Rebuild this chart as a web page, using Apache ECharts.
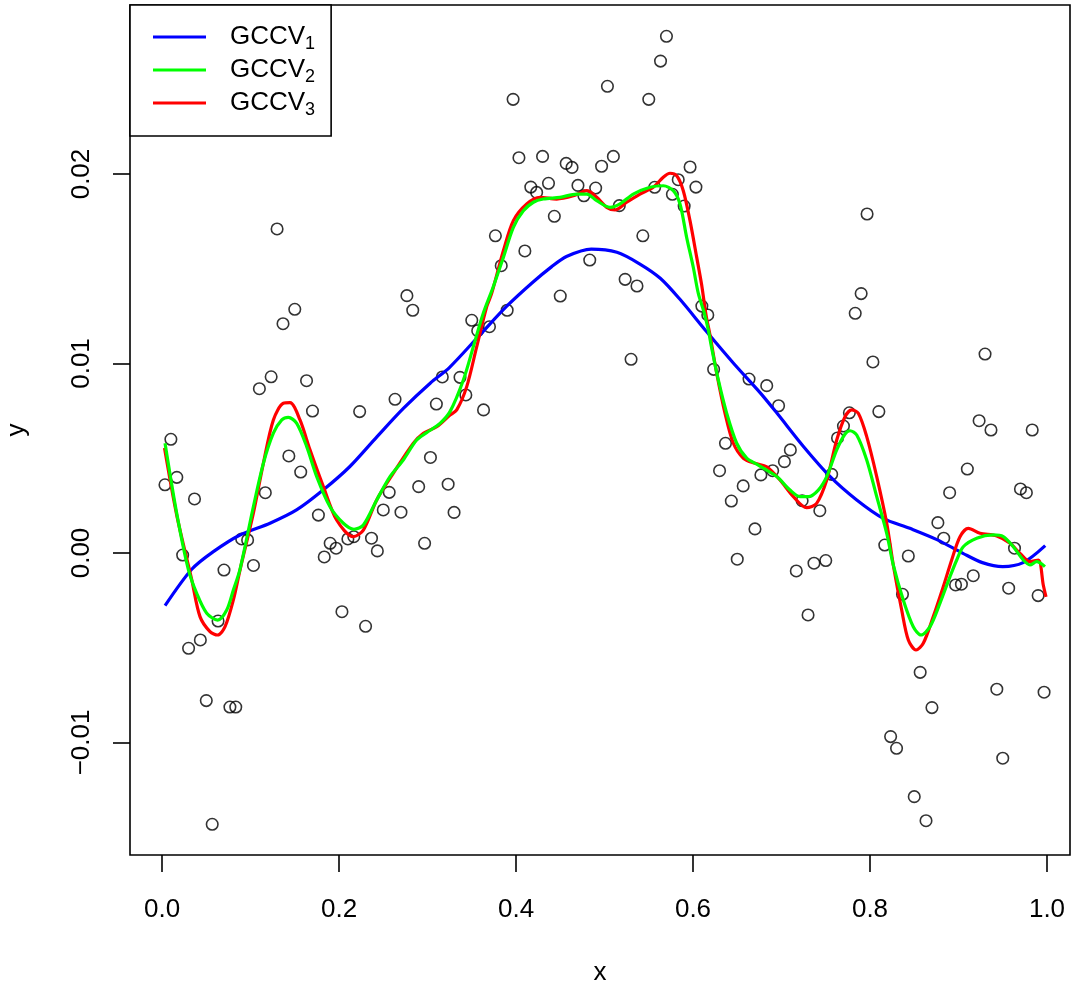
<!DOCTYPE html>
<html>

<head>
    <meta http-equiv="Content-Type" content="text/html; charset=utf-8">
    <title>GCCV smoothing</title>
    <script src="https://cdn.jsdelivr.net/npm/echarts@6.0.0/dist/echarts.min.js"></script>
    <style>
        body { margin: 0; background: #fff; }
    </style>
</head>

<body>
    <div id="main" style="width: 1072px;height:988px;"></div>
    <script type="text/javascript">
        // observations
        var pointX = [
            0.0033, 0.0100, 0.0167, 0.0233, 0.0300, 0.0367, 0.0433, 0.0500, 0.0567, 0.0633,
            0.0700, 0.0767, 0.0833, 0.0900, 0.0967, 0.1033, 0.1100, 0.1167, 0.1233, 0.1300,
            0.1367, 0.1433, 0.1500, 0.1567, 0.1633, 0.1700, 0.1767, 0.1833, 0.1900, 0.1967,
            0.2033, 0.2100, 0.2167, 0.2233, 0.2300, 0.2367, 0.2433, 0.2500, 0.2567, 0.2633,
            0.2700, 0.2767, 0.2833, 0.2900, 0.2967, 0.3033, 0.3100, 0.3167, 0.3233, 0.3300,
            0.3367, 0.3433, 0.3500, 0.3567, 0.3633, 0.3700, 0.3767, 0.3833, 0.3900, 0.3967,
            0.4033, 0.4100, 0.4167, 0.4233, 0.4300, 0.4367, 0.4433, 0.4500, 0.4567, 0.4633,
            0.4700, 0.4767, 0.4833, 0.4900, 0.4967, 0.5033, 0.5100, 0.5167, 0.5233, 0.5300,
            0.5367, 0.5433, 0.5500, 0.5567, 0.5633, 0.5700, 0.5767, 0.5833, 0.5900, 0.5967,
            0.6033, 0.6100, 0.6167, 0.6233, 0.6300, 0.6367, 0.6433, 0.6500, 0.6567, 0.6633,
            0.6700, 0.6767, 0.6833, 0.6900, 0.6967, 0.7033, 0.7100, 0.7167, 0.7233, 0.7300,
            0.7367, 0.7433, 0.7500, 0.7567, 0.7633, 0.7700, 0.7767, 0.7833, 0.7900, 0.7967,
            0.8033, 0.8100, 0.8167, 0.8233, 0.8300, 0.8367, 0.8433, 0.8500, 0.8567, 0.8633,
            0.8700, 0.8767, 0.8833, 0.8900, 0.8967, 0.9033, 0.9100, 0.9167, 0.9233, 0.9300,
            0.9367, 0.9433, 0.9500, 0.9567, 0.9633, 0.9700, 0.9767, 0.9833, 0.9900, 0.9967
        ];
        var pointY = [
            0.00360, 0.00600, 0.00399, -0.00011, -0.00503, 0.00285, -0.00459, -0.00779, -0.01432, -0.00359,
            -0.00090, -0.00813, -0.00813, 0.00074, 0.00069, -0.00066, 0.00867, 0.00318, 0.00930, 0.01710,
            0.01210, 0.00512, 0.01286, 0.00427, 0.00909, 0.00749, 0.00200, -0.00021, 0.00051, 0.00025,
            -0.00310, 0.00074, 0.00086, 0.00746, -0.00387, 0.00078, 0.00011, 0.00227, 0.00320, 0.00811,
            0.00215, 0.01358, 0.01281, 0.00350, 0.00051, 0.00504, 0.00786, 0.00929, 0.00363, 0.00214,
            0.00927, 0.00834, 0.01228, 0.01173, 0.00755, 0.01194, 0.01674, 0.01516, 0.01281, 0.02394,
            0.02086, 0.01594, 0.01931, 0.01903, 0.02093, 0.01951, 0.01777, 0.01356, 0.02056, 0.02035,
            0.01940, 0.01885, 0.01546, 0.01926, 0.02041, 0.02463, 0.02093, 0.01833, 0.01444, 0.01022,
            0.01409, 0.01674, 0.02394, 0.01930, 0.02596, 0.02727, 0.01893, 0.01970, 0.01831, 0.02037,
            0.01931, 0.01303, 0.01256, 0.00969, 0.00434, 0.00579, 0.00274, -0.00033, 0.00354, 0.00918,
            0.00127, 0.00412, 0.00883, 0.00434, 0.00777, 0.00482, 0.00544, -0.00095, 0.00276, -0.00327,
            -0.00054, 0.00223, -0.00040, 0.00415, 0.00607, 0.00670, 0.00740, 0.01265, 0.01369, 0.01789,
            0.01008, 0.00746, 0.00042, -0.00969, -0.01031, -0.00218, -0.00016, -0.01286, -0.00630, -0.01413,
            -0.00816, 0.00160, 0.00078, 0.00318, -0.00169, -0.00165, 0.00443, -0.00120, 0.00698, 0.01050,
            0.00649, -0.00719, -0.01083, -0.00186, 0.00025, 0.00338, 0.00318, 0.00649, -0.00225, -0.00735
        ];

        // fitted curves, [x, y]
        var gccv1 = [
            [0.0034, -0.00278], [0.0336, -0.00086], [0.058, 0.00007], [0.0881, 0.00095], [0.122, 0.00157],
            [0.152, 0.00227], [0.182, 0.00332], [0.212, 0.00455], [0.243, 0.00614], [0.273, 0.00764],
            [0.303, 0.00896], [0.325, 0.0098], [0.359, 0.0115], [0.389, 0.0130], [0.418, 0.01425],
            [0.440, 0.0151], [0.457, 0.01565], [0.485, 0.01604], [0.514, 0.01587], [0.540, 0.01525],
            [0.563, 0.0145], [0.585, 0.0134], [0.615, 0.0117], [0.646, 0.0100],
            [0.676, 0.00845], [0.695, 0.00737], [0.725, 0.00561], [0.755, 0.00403], [0.785, 0.0028],
            [0.815, 0.00183], [0.845, 0.0013], [0.875, 0.00072], [0.905, -0.00002], [0.927, -0.00051],
            [0.950, -0.00072], [0.973, -0.00051], [0.998, 0.00039]
        ];
        var gccv2 = [
            [0.0034, 0.00579], [0.0166, 0.00209], [0.0297, -0.00086], [0.0392, -0.00213], [0.0505, -0.00318],
            [0.0629, -0.00354], [0.0731, -0.00301], [0.0806, -0.00195], [0.0881, -0.00086], [0.1032, 0.00244],
            [0.1145, 0.00473], [0.1258, 0.00632], [0.1353, 0.00702], [0.1427, 0.00716], [0.1522, 0.00684],
            [0.1635, 0.00561], [0.1748, 0.00403], [0.1898, 0.00244], [0.2049, 0.00157], [0.2169, 0.00125],
            [0.2275, 0.00148], [0.2426, 0.0028], [0.2576, 0.00403], [0.2726, 0.00491], [0.2877, 0.00596],
            [0.2990, 0.00635], [0.3141, 0.00684], [0.3254, 0.00746], [0.3405, 0.00913], [0.3518, 0.01089],
            [0.3630, 0.01265], [0.3743, 0.01405], [0.3857, 0.0156], [0.3970, 0.01719], [0.4083, 0.01806],
            [0.4196, 0.01851], [0.4308, 0.01868], [0.4497, 0.01877], [0.4686, 0.01894], [0.4799, 0.01894],
            [0.4912, 0.01859], [0.5062, 0.01824], [0.5175, 0.01842], [0.5325, 0.01894], [0.5514, 0.0193],
            [0.5664, 0.01938], [0.5777, 0.01912], [0.5853, 0.01842], [0.5928, 0.01666], [0.6003, 0.01508],
            [0.6060, 0.0137], [0.6124, 0.01272], [0.6173, 0.01177], [0.6211, 0.01082], [0.6286, 0.00913],
            [0.6381, 0.00737], [0.6494, 0.00579], [0.6607, 0.005], [0.6738, 0.00464], [0.6946, 0.00403],
            [0.7096, 0.00332], [0.7209, 0.00297], [0.7303, 0.00297], [0.7416, 0.00332], [0.7511, 0.00403],
            [0.7624, 0.00544], [0.7718, 0.00628], [0.7774, 0.00645], [0.785, 0.00623], [0.7963, 0.00491],
            [0.8076, 0.00297], [0.8189, 0.00104], [0.8263, -0.00063], [0.8376, -0.00248], [0.8489, -0.00389],
            [0.8576, -0.00433], [0.8678, -0.00389], [0.8791, -0.00265], [0.8904, -0.00125], [0.8980, -0.00037],
            [0.9054, 0.00033], [0.9206, 0.00078], [0.9393, 0.00095], [0.9506, 0.00086], [0.9619, 0.00033],
            [0.9732, -0.00037], [0.9808, -0.00063], [0.9883, -0.00046], [0.9977, -0.00072]
        ];
        var gccv3 = [
            [0.0028, 0.00554], [0.0166, 0.002], [0.0336, -0.00142], [0.0429, -0.00336], [0.0542, -0.00415],
            [0.0629, -0.00433], [0.0712, -0.00389], [0.0806, -0.00248], [0.0881, -0.0009], [0.1032, 0.0021],
            [0.1145, 0.00473], [0.1258, 0.00702], [0.1371, 0.0079], [0.1446, 0.00793], [0.1559, 0.00702],
            [0.1672, 0.00544], [0.1823, 0.0035], [0.1973, 0.00174], [0.2162, 0.00086], [0.2275, 0.00121],
            [0.2426, 0.0028], [0.2614, 0.00421], [0.2840, 0.00579], [0.2953, 0.00632], [0.3104, 0.00666],
            [0.3254, 0.00728], [0.3330, 0.00755], [0.3443, 0.00878], [0.3556, 0.01089], [0.3669, 0.013],
            [0.3725, 0.0137], [0.3857, 0.01595], [0.3970, 0.01754], [0.4121, 0.01842], [0.4271, 0.01877],
            [0.4460, 0.01868], [0.4648, 0.01885], [0.4799, 0.01912], [0.4912, 0.01877], [0.5025, 0.01824],
            [0.5119, 0.0181], [0.5251, 0.01851], [0.5401, 0.01894], [0.5551, 0.0193], [0.5664, 0.01983],
            [0.5740, 0.02004], [0.5816, 0.01991], [0.5890, 0.01912], [0.5966, 0.01754], [0.6042, 0.0156],
            [0.6098, 0.01414], [0.6147, 0.01256], [0.6192, 0.0115], [0.6268, 0.00948], [0.6362, 0.00737],
            [0.6456, 0.00579], [0.6569, 0.005], [0.6701, 0.00473], [0.6833, 0.00455], [0.6983, 0.00385],
            [0.7134, 0.00297], [0.7284, 0.00239], [0.7397, 0.00262], [0.7511, 0.00385], [0.7624, 0.00596],
            [0.7718, 0.00719], [0.7793, 0.00755], [0.7868, 0.00737], [0.7963, 0.00614], [0.8076, 0.00403],
            [0.8189, 0.00157], [0.8263, -0.00063], [0.8358, -0.00301], [0.8433, -0.00459], [0.8520, -0.00512],
            [0.8602, -0.00477], [0.8715, -0.00336], [0.8828, -0.00178], [0.8923, -0.00037], [0.9017, 0.00086],
            [0.9111, 0.0013], [0.9243, 0.00104], [0.9432, 0.0009], [0.9582, 0.00051], [0.9695, -0.00002],
            [0.9808, -0.00046], [0.9902, -0.00037], [0.9958, -0.00169], [0.9989, -0.00232]
        ];

        var seriesNames = ['GCCV1', 'GCCV2', 'GCCV3'];
        var seriesColors = ['#0000ff', '#00ff00', '#ff0000'];

        var xTicks = [0, 0.2, 0.4, 0.6, 0.8, 1.0];
        var xTickLabels = ['0.0', '0.2', '0.4', '0.6', '0.8', '1.0'];
        var yTicks = [-0.01, 0, 0.01, 0.02];
        var yTickLabels = ['\u22120.01', '0.00', '0.01', '0.02'];

        var font = "'Liberation Sans', Arial, Helvetica, sans-serif";

        var points = pointX.map(function (x, i) { return [x, pointY[i]]; });

        function tickLabel(ticks, labels) {
            return function (value) {
                for (var i = 0; i < ticks.length; i++) {
                    if (Math.abs(ticks[i] - value) < 1e-9) return labels[i];
                }
                return '';
            };
        }

        var chart = echarts.init(document.getElementById('main'), null, { renderer: 'canvas' });
        var option = {
            animation: false,
            backgroundColor: '#ffffff',
            textStyle: { fontFamily: font },
            grid: {
                left: 130, right: 2, top: 5, bottom: 133,
                outerBoundsMode: 'none',
                containLabel: false,
                show: true,
                borderColor: '#000',
                borderWidth: 1.6,
                backgroundColor: 'transparent'
            },
            legend: {
                data: seriesNames,
                orient: 'vertical',
                left: 130,
                top: 5,
                padding: [16, 16, 17, 23],
                borderColor: '#000',
                borderWidth: 1.6,
                backgroundColor: '#fff',
                icon: 'rect',
                itemWidth: 53,
                itemHeight: 3.2,
                itemGap: 1,
                formatter: function (name) {
                    return '{m|' + name.slice(0, 4) + '}{s|' + name.slice(4) + '}';
                },
                textStyle: {
                    rich: {
                        m: { fontFamily: font, fontSize: 26, lineHeight: 26, color: '#000', padding: [0, 0, 0, 19] },
                        s: { fontFamily: font, fontSize: 18, lineHeight: 18, color: '#000', padding: [14, 0, 0, 0] }
                    }
                }
            },
            xAxis: {
                type: 'value',
                min: -0.0362,
                max: 1.026,
                name: 'x',
                nameLocation: 'middle',
                nameGap: 105,
                nameTextStyle: { fontFamily: font, fontSize: 26, color: '#000', lineHeight: 26 },
                axisLine: { show: false, onZero: false },
                splitLine: { show: false },
                axisTick: {
                    show: true,
                    length: 17,
                    customValues: xTicks,
                    lineStyle: { color: '#000', width: 1.6 }
                },
                axisLabel: {
                    customValues: xTicks,
                    formatter: tickLabel(xTicks, xTickLabels),
                    margin: 42,
                    fontFamily: font,
                    fontSize: 26,
                    lineHeight: 26,
                    color: '#000'
                }
            },
            yAxis: {
                type: 'value',
                min: -0.01594,
                max: 0.02892,
                name: 'y',
                nameLocation: 'middle',
                nameGap: 100,
                nameRotate: 90,
                nameTextStyle: { fontFamily: font, fontSize: 26, color: '#000', lineHeight: 26 },
                axisLine: { show: false, onZero: false },
                splitLine: { show: false },
                axisTick: {
                    show: true,
                    length: 17,
                    customValues: yTicks,
                    lineStyle: { color: '#000', width: 1.6 }
                },
                axisLabel: {
                    customValues: yTicks,
                    formatter: tickLabel(yTicks, yTickLabels),
                    rotate: 90,
                    margin: 35,
                    fontFamily: font,
                    fontSize: 26,
                    lineHeight: 26,
                    color: '#000'
                }
            },
            series: [
                {
                    type: 'scatter',
                    name: 'obs',
                    data: points,
                    symbol: 'circle',
                    symbolSize: 11.5,
                    itemStyle: { color: 'transparent', borderColor: '#000', borderWidth: 1.6 },
                    z: 2
                },
                {
                    type: 'line',
                    name: seriesNames[0],
                    data: gccv1,
                    color: seriesColors[0],
                    showSymbol: false,
                    smooth: 0.3,
                    lineStyle: { width: 3.2, color: seriesColors[0] },
                    z: 3
                },
                {
                    type: 'line',
                    name: seriesNames[2],
                    data: gccv3,
                    color: seriesColors[2],
                    showSymbol: false,
                    smooth: 0.3,
                    lineStyle: { width: 3.2, color: seriesColors[2] },
                    z: 4
                },
                {
                    type: 'line',
                    name: seriesNames[1],
                    data: gccv2,
                    color: seriesColors[1],
                    showSymbol: false,
                    smooth: 0.3,
                    lineStyle: { width: 3.2, color: seriesColors[1] },
                    z: 5
                }
            ]
        };
        chart.setOption(option);
    </script>
</body>

</html>
